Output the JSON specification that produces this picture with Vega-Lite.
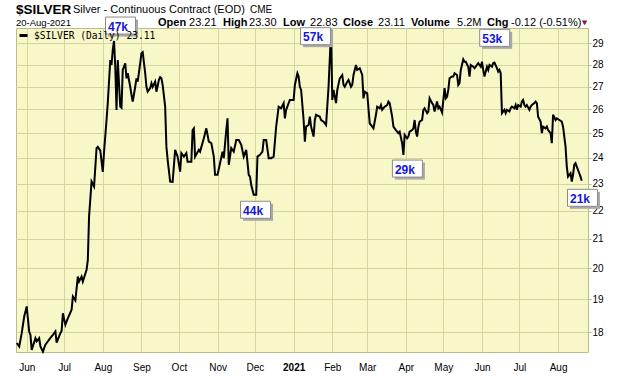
{
  "$schema": "https://vega.github.io/schema/vega-lite/v6.json",
  "width": 572,
  "height": 324,
  "autosize": {"type": "none"},
  "padding": {"left": 16, "top": 28, "right": 32, "bottom": 24},
  "background": "white",
  "config": {
    "view": {"fill": "#f7f7c7", "stroke": "#bcbc88", "strokeWidth": 1},
    "font": "Liberation Sans",
    "axis": {"labelFont": "Liberation Sans", "labelColor": "black"}
  },
  "datasets": {
    "silver": [
      {"date":"2020-05-24","price":17.68},{"date":"2020-05-26","price":17.58},{"date":"2020-05-28","price":17.97},{"date":"2020-05-30","price":18.47},{"date":"2020-06-01","price":18.78},{"date":"2020-06-03","price":18.02},{"date":"2020-06-04","price":17.92},{"date":"2020-06-05","price":17.48},{"date":"2020-06-08","price":17.82},{"date":"2020-06-09","price":17.73},{"date":"2020-06-11","price":17.82},{"date":"2020-06-12","price":17.58},{"date":"2020-06-14","price":17.43},{"date":"2020-06-16","price":17.63},{"date":"2020-06-17","price":17.68},{"date":"2020-06-20","price":17.83},{"date":"2020-06-22","price":17.92},{"date":"2020-06-24","price":18.02},{"date":"2020-06-25","price":17.69},{"date":"2020-06-28","price":17.97},{"date":"2020-06-29","price":18.04},{"date":"2020-06-30","price":18.57},{"date":"2020-07-02","price":18.22},{"date":"2020-07-04","price":18.42},{"date":"2020-07-07","price":18.68},{"date":"2020-07-08","price":19.09},{"date":"2020-07-10","price":18.97},{"date":"2020-07-12","price":19.73},{"date":"2020-07-13","price":19.57},{"date":"2020-07-15","price":19.73},{"date":"2020-07-16","price":19.57},{"date":"2020-07-19","price":19.95},{"date":"2020-07-20","price":20.28},{"date":"2020-07-21","price":21.79},{"date":"2020-07-23","price":23.08},{"date":"2020-07-25","price":22.89},{"date":"2020-07-27","price":24.39},{"date":"2020-07-28","price":24.44},{"date":"2020-07-30","price":24.29},{"date":"2020-08-01","price":23.45},{"date":"2020-08-02","price":24.24},{"date":"2020-08-04","price":25.55},{"date":"2020-08-05","price":26.28},{"date":"2020-08-07","price":28.21},{"date":"2020-08-08","price":27.98},{"date":"2020-08-09","price":28.68},{"date":"2020-08-10","price":29.11},{"date":"2020-08-11","price":27.90},{"date":"2020-08-12","price":25.98},{"date":"2020-08-13","price":28.21},{"date":"2020-08-15","price":26.12},{"date":"2020-08-16","price":26.07},{"date":"2020-08-17","price":27.75},{"date":"2020-08-19","price":28.06},{"date":"2020-08-20","price":27.37},{"date":"2020-08-21","price":27.60},{"date":"2020-08-23","price":26.99},{"date":"2020-08-24","price":26.63},{"date":"2020-08-25","price":26.34},{"date":"2020-08-27","price":26.99},{"date":"2020-08-28","price":27.37},{"date":"2020-08-29","price":27.22},{"date":"2020-08-31","price":28.06},{"date":"2020-09-01","price":28.53},{"date":"2020-09-02","price":28.58},{"date":"2020-09-04","price":27.60},{"date":"2020-09-05","price":26.99},{"date":"2020-09-06","price":26.77},{"date":"2020-09-08","price":26.93},{"date":"2020-09-09","price":27.15},{"date":"2020-09-10","price":26.99},{"date":"2020-09-12","price":27.22},{"date":"2020-09-13","price":26.77},{"date":"2020-09-15","price":27.30},{"date":"2020-09-16","price":27.42},{"date":"2020-09-17","price":27.37},{"date":"2020-09-18","price":27.07},{"date":"2020-09-20","price":26.12},{"date":"2020-09-21","price":24.45},{"date":"2020-09-22","price":23.92},{"date":"2020-09-24","price":23.08},{"date":"2020-09-26","price":23.07},{"date":"2020-09-28","price":24.32},{"date":"2020-09-30","price":24.05},{"date":"2020-10-02","price":23.46},{"date":"2020-10-03","price":24.19},{"date":"2020-10-05","price":24.05},{"date":"2020-10-07","price":24.19},{"date":"2020-10-08","price":23.85},{"date":"2020-10-11","price":23.85},{"date":"2020-10-12","price":25.13},{"date":"2020-10-13","price":25.20},{"date":"2020-10-14","price":24.05},{"date":"2020-10-17","price":24.32},{"date":"2020-10-18","price":24.25},{"date":"2020-10-21","price":24.79},{"date":"2020-10-23","price":25.20},{"date":"2020-10-25","price":24.65},{"date":"2020-10-27","price":24.59},{"date":"2020-10-29","price":24.05},{"date":"2020-10-30","price":23.34},{"date":"2020-11-01","price":23.34},{"date":"2020-11-03","price":23.79},{"date":"2020-11-05","price":24.25},{"date":"2020-11-06","price":23.99},{"date":"2020-11-08","price":25.13},{"date":"2020-11-09","price":25.62},{"date":"2020-11-10","price":23.73},{"date":"2020-11-12","price":24.39},{"date":"2020-11-14","price":24.25},{"date":"2020-11-16","price":24.72},{"date":"2020-11-18","price":24.72},{"date":"2020-11-20","price":24.52},{"date":"2020-11-22","price":24.05},{"date":"2020-11-24","price":24.32},{"date":"2020-11-26","price":23.34},{"date":"2020-11-27","price":23.27},{"date":"2020-11-28","price":22.95},{"date":"2020-11-30","price":22.58},{"date":"2020-12-02","price":22.58},{"date":"2020-12-03","price":24.05},{"date":"2020-12-05","price":24.12},{"date":"2020-12-07","price":24.25},{"date":"2020-12-08","price":24.72},{"date":"2020-12-10","price":24.72},{"date":"2020-12-12","price":23.99},{"date":"2020-12-14","price":23.99},{"date":"2020-12-16","price":24.05},{"date":"2020-12-18","price":25.27},{"date":"2020-12-20","price":26.12},{"date":"2020-12-22","price":26.05},{"date":"2020-12-24","price":26.27},{"date":"2020-12-25","price":25.62},{"date":"2020-12-26","price":25.98},{"date":"2020-12-28","price":26.27},{"date":"2020-12-29","price":26.41},{"date":"2021-01-01","price":26.41},{"date":"2021-01-02","price":27.07},{"date":"2021-01-04","price":27.60},{"date":"2021-01-05","price":27.45},{"date":"2021-01-06","price":26.99},{"date":"2021-01-07","price":26.85},{"date":"2021-01-09","price":25.55},{"date":"2021-01-10","price":24.65},{"date":"2021-01-11","price":25.27},{"date":"2021-01-13","price":25.34},{"date":"2021-01-14","price":25.69},{"date":"2021-01-15","price":25.27},{"date":"2021-01-17","price":24.86},{"date":"2021-01-18","price":25.55},{"date":"2021-01-19","price":25.77},{"date":"2021-01-22","price":25.69},{"date":"2021-01-23","price":25.55},{"date":"2021-01-25","price":25.48},{"date":"2021-01-27","price":25.34},{"date":"2021-01-29","price":26.99},{"date":"2021-01-31","price":29.65},{"date":"2021-02-01","price":26.41},{"date":"2021-02-02","price":26.85},{"date":"2021-02-04","price":26.27},{"date":"2021-02-05","price":26.85},{"date":"2021-02-07","price":27.37},{"date":"2021-02-09","price":27.52},{"date":"2021-02-10","price":27.07},{"date":"2021-02-11","price":26.99},{"date":"2021-02-13","price":27.22},{"date":"2021-02-14","price":27.30},{"date":"2021-02-16","price":26.99},{"date":"2021-02-17","price":27.07},{"date":"2021-02-18","price":27.52},{"date":"2021-02-20","price":27.98},{"date":"2021-02-21","price":27.75},{"date":"2021-02-23","price":27.83},{"date":"2021-02-25","price":27.52},{"date":"2021-02-26","price":26.48},{"date":"2021-02-27","price":26.77},{"date":"2021-03-01","price":26.70},{"date":"2021-03-02","price":26.05},{"date":"2021-03-03","price":25.41},{"date":"2021-03-05","price":25.27},{"date":"2021-03-06","price":25.20},{"date":"2021-03-08","price":25.77},{"date":"2021-03-09","price":26.12},{"date":"2021-03-11","price":26.05},{"date":"2021-03-12","price":26.19},{"date":"2021-03-13","price":25.98},{"date":"2021-03-15","price":26.12},{"date":"2021-03-17","price":26.19},{"date":"2021-03-18","price":26.34},{"date":"2021-03-19","price":26.27},{"date":"2021-03-21","price":25.69},{"date":"2021-03-22","price":25.27},{"date":"2021-03-24","price":25.13},{"date":"2021-03-26","price":25.00},{"date":"2021-03-27","price":25.06},{"date":"2021-03-29","price":24.59},{"date":"2021-03-30","price":24.12},{"date":"2021-03-31","price":24.93},{"date":"2021-04-02","price":24.79},{"date":"2021-04-03","price":24.86},{"date":"2021-04-04","price":25.06},{"date":"2021-04-06","price":25.13},{"date":"2021-04-07","price":25.20},{"date":"2021-04-08","price":25.55},{"date":"2021-04-09","price":25.06},{"date":"2021-04-10","price":24.86},{"date":"2021-04-11","price":25.27},{"date":"2021-04-12","price":25.48},{"date":"2021-04-14","price":25.55},{"date":"2021-04-15","price":25.98},{"date":"2021-04-16","price":26.05},{"date":"2021-04-18","price":25.84},{"date":"2021-04-19","price":25.91},{"date":"2021-04-20","price":26.48},{"date":"2021-04-22","price":26.27},{"date":"2021-04-23","price":26.19},{"date":"2021-04-24","price":25.91},{"date":"2021-04-26","price":26.34},{"date":"2021-04-27","price":26.05},{"date":"2021-04-28","price":26.12},{"date":"2021-04-30","price":25.87},{"date":"2021-05-02","price":26.93},{"date":"2021-05-03","price":26.48},{"date":"2021-05-04","price":26.55},{"date":"2021-05-05","price":26.85},{"date":"2021-05-06","price":27.37},{"date":"2021-05-08","price":27.45},{"date":"2021-05-09","price":27.45},{"date":"2021-05-10","price":27.60},{"date":"2021-05-12","price":27.52},{"date":"2021-05-13","price":27.07},{"date":"2021-05-14","price":27.15},{"date":"2021-05-15","price":27.75},{"date":"2021-05-17","price":28.24},{"date":"2021-05-18","price":28.13},{"date":"2021-05-19","price":28.13},{"date":"2021-05-21","price":27.90},{"date":"2021-05-22","price":27.45},{"date":"2021-05-23","price":27.98},{"date":"2021-05-25","price":27.90},{"date":"2021-05-26","price":27.83},{"date":"2021-05-27","price":27.90},{"date":"2021-05-29","price":28.06},{"date":"2021-05-31","price":27.90},{"date":"2021-06-01","price":28.13},{"date":"2021-06-02","price":27.75},{"date":"2021-06-03","price":27.45},{"date":"2021-06-05","price":27.90},{"date":"2021-06-06","price":27.75},{"date":"2021-06-07","price":27.98},{"date":"2021-06-09","price":27.90},{"date":"2021-06-10","price":28.06},{"date":"2021-06-11","price":28.09},{"date":"2021-06-13","price":27.83},{"date":"2021-06-14","price":27.67},{"date":"2021-06-15","price":27.75},{"date":"2021-06-16","price":27.60},{"date":"2021-06-17","price":25.84},{"date":"2021-06-19","price":25.98},{"date":"2021-06-20","price":25.84},{"date":"2021-06-21","price":25.98},{"date":"2021-06-23","price":25.91},{"date":"2021-06-24","price":26.05},{"date":"2021-06-25","price":26.12},{"date":"2021-06-27","price":26.05},{"date":"2021-06-28","price":26.19},{"date":"2021-06-29","price":25.98},{"date":"2021-06-30","price":26.19},{"date":"2021-07-02","price":26.12},{"date":"2021-07-03","price":26.34},{"date":"2021-07-04","price":26.41},{"date":"2021-07-05","price":26.19},{"date":"2021-07-06","price":26.12},{"date":"2021-07-07","price":26.19},{"date":"2021-07-09","price":25.98},{"date":"2021-07-10","price":26.12},{"date":"2021-07-11","price":26.19},{"date":"2021-07-13","price":26.27},{"date":"2021-07-14","price":26.34},{"date":"2021-07-15","price":26.27},{"date":"2021-07-16","price":25.69},{"date":"2021-07-18","price":25.48},{"date":"2021-07-19","price":25.00},{"date":"2021-07-20","price":25.27},{"date":"2021-07-22","price":25.20},{"date":"2021-07-23","price":25.27},{"date":"2021-07-24","price":25.13},{"date":"2021-07-26","price":25.00},{"date":"2021-07-27","price":24.59},{"date":"2021-07-28","price":25.77},{"date":"2021-07-30","price":25.55},{"date":"2021-07-31","price":25.62},{"date":"2021-08-02","price":25.55},{"date":"2021-08-04","price":25.48},{"date":"2021-08-05","price":25.27},{"date":"2021-08-07","price":24.45},{"date":"2021-08-08","price":23.66},{"date":"2021-08-09","price":23.27},{"date":"2021-08-11","price":23.40},{"date":"2021-08-12","price":23.08},{"date":"2021-08-13","price":23.34},{"date":"2021-08-14","price":23.73},{"date":"2021-08-15","price":23.79},{"date":"2021-08-16","price":23.66},{"date":"2021-08-18","price":23.40},{"date":"2021-08-19","price":23.27},{"date":"2021-08-20","price":23.11}
    ],
    "volume": [
      {"date":"2020-08-15T05:00:00Z","price":29.86,"volume":"47k"},
      {"date":"2021-01-18T14:00:00Z","price":29.34,"volume":"57k"},
      {"date":"2020-12-01T11:00:00Z","price":22.03,"volume":"44k"},
      {"date":"2021-04-02T05:00:00Z","price":23.58,"volume":"29k"},
      {"date":"2021-06-11T05:00:00Z","price":29.26,"volume":"53k"},
      {"date":"2021-08-20T14:00:00Z","price":22.47,"volume":"21k"}
    ]
  },
  "layer": [
    {
      "data": {"name": "silver"},
      "mark": {"type": "line", "strokeWidth": 2},
      "encoding": {
        "x": {
          "field": "date", "type": "temporal",
          "scale": {"type": "utc", "domain": [{"year":2020,"month":5,"date":23,"hours":10,"utc":true},{"year":2021,"month":8,"date":25,"utc":true}]},
          "axis": {
            "title": null, "grid": true, "gridColor": "#d4d4a0", "gridWidth": 1,
            "tickCount": {"interval": "month", "step": 1},
            "ticks": false, "domain": false,
            "labelPadding": 10, "labelFontSize": 10,
            "labelExpr": "utcFormat(datum.value, '%m') == '01' ? utcFormat(datum.value, '%Y') : utcFormat(datum.value, '%b')",
            "labelFontWeight": {"condition": {"test": "utcFormat(datum.value, '%m') == '01'", "value": "bold"}, "value": "normal"}
          }
        },
        "y": {
          "field": "price", "type": "quantitative",
          "scale": {"type": "log", "domain": [17.42, 29.74], "nice": false, "zero": false},
          "axis": {
            "title": null, "orient": "right", "grid": true, "gridColor": "#d4d4a0", "gridWidth": 1,
            "values": [18,19,20,21,22,23,24,25,26,27,28,29],
            "tickSize": 3, "tickColor": "#bcbc88", "labelPadding": 1, "labelFontSize": 10,
            "domain": false
          }
        },
        "color": {
          "datum": "$SILVER (Daily) 23.11", "type": "nominal",
          "scale": {"range": ["#000000"]},
          "legend": {
            "orient": "top-left", "offset": 2, "padding": 0, "title": null,
            "symbolType": "stroke", "symbolStrokeWidth": 3, "symbolSize": 64,
            "labelFont": "DejaVu Sans Mono", "labelFontSize": 9.6, "labelColor": "black", "labelOffset": 5
          }
        }
      }
    },
    {
      "data": {"name": "volume"},
      "mark": {"type": "point", "shape": "M-1.471,-0.706L2.059,-0.706L2.059,1.294L-1.471,1.294Z", "filled": true, "fill": "#a9a9a9", "opacity": 1, "strokeWidth": 0, "size": 289},
      "encoding": {"x": {"field": "date", "type": "temporal"}, "y": {"field": "price", "type": "quantitative"}}
    },
    {
      "data": {"name": "volume"},
      "mark": {"type": "point", "shape": "M-1.765,-1L1.765,-1L1.765,1L-1.765,1Z", "filled": true, "fill": "white", "stroke": "#8a8a8a", "strokeWidth": 1, "opacity": 1, "size": 289},
      "encoding": {"x": {"field": "date", "type": "temporal"}, "y": {"field": "price", "type": "quantitative"}}
    },
    {
      "data": {"name": "volume"},
      "mark": {"type": "text", "align": "left", "baseline": "middle", "dx": -12.5, "dy": 1, "font": "Liberation Sans", "fontWeight": "bold", "fontSize": 12, "color": "#1515e0"},
      "encoding": {"x": {"field": "date", "type": "temporal"}, "y": {"field": "price", "type": "quantitative"}, "text": {"field": "volume"}}
    },
    {
      "data": {"values": [{"t": "$SILVER"}]},
      "mark": {"type": "text", "align": "left", "baseline": "alphabetic", "font": "Liberation Sans", "fontWeight": "bold", "fontSize": 13.5, "color": "black"},
      "encoding": {"x": {"datum": {"year":2020,"month":5,"date":23,"hours":10,"utc":true}, "type": "temporal"}, "y": {"datum": 30.44, "type": "quantitative"}, "text": {"field": "t"}}
    },
    {
      "data": {"values": [{"t": "Silver - Continuous Contract (EOD)"}]},
      "mark": {"type": "text", "align": "left", "baseline": "alphabetic", "fontSize": 11, "color": "black"},
      "encoding": {"x": {"datum": {"year":2020,"month":7,"date":8,"hours":3,"utc":true}, "type": "temporal"}, "y": {"datum": 30.49, "type": "quantitative"}, "text": {"field": "t"}}
    },
    {
      "data": {"values": [{"t": "CME"}]},
      "mark": {"type": "text", "align": "left", "baseline": "alphabetic", "fontSize": 10, "color": "black"},
      "encoding": {"x": {"datum": {"year":2020,"month":11,"date":27,"hours":1,"utc":true}, "type": "temporal"}, "y": {"datum": 30.49, "type": "quantitative"}, "text": {"field": "t"}}
    },
    {
      "data": {"values": [{"t": "20-Aug-2021"}]},
      "mark": {"type": "text", "align": "left", "baseline": "alphabetic", "fontSize": 9.5, "color": "black"},
      "encoding": {"x": {"datum": {"year":2020,"month":5,"date":23,"hours":10,"utc":true}, "type": "temporal"}, "y": {"datum": 29.85, "type": "quantitative"}, "text": {"field": "t"}}
    },
    {
      "data": {"values": [{"t": "Open"}]},
      "mark": {"type": "text", "align": "left", "baseline": "alphabetic", "fontSize": 11, "fontWeight": "bold", "color": "black"},
      "encoding": {"x": {"datum": {"year":2020,"month":9,"date":14,"hours":7,"utc":true}, "type": "temporal"}, "y": {"datum": 29.85, "type": "quantitative"}, "text": {"field": "t"}}
    },
    {
      "data": {"values": [{"t": "23.21"}]},
      "mark": {"type": "text", "align": "left", "baseline": "alphabetic", "fontSize": 11, "color": "black"},
      "encoding": {"x": {"datum": {"year":2020,"month":10,"date":9,"hours":3,"utc":true}, "type": "temporal"}, "y": {"datum": 29.85, "type": "quantitative"}, "text": {"field": "t"}}
    },
    {
      "data": {"values": [{"t": "High"}]},
      "mark": {"type": "text", "align": "left", "baseline": "alphabetic", "fontSize": 11, "fontWeight": "bold", "color": "black"},
      "encoding": {"x": {"datum": {"year":2020,"month":11,"date":5,"hours":9,"utc":true}, "type": "temporal"}, "y": {"datum": 29.85, "type": "quantitative"}, "text": {"field": "t"}}
    },
    {
      "data": {"values": [{"t": "23.30"}]},
      "mark": {"type": "text", "align": "left", "baseline": "alphabetic", "fontSize": 11, "color": "black"},
      "encoding": {"x": {"datum": {"year":2020,"month":11,"date":26,"hours":6,"utc":true}, "type": "temporal"}, "y": {"datum": 29.85, "type": "quantitative"}, "text": {"field": "t"}}
    },
    {
      "data": {"values": [{"t": "Low"}]},
      "mark": {"type": "text", "align": "left", "baseline": "alphabetic", "fontSize": 11, "fontWeight": "bold", "color": "black"},
      "encoding": {"x": {"datum": {"year":2020,"month":12,"date":23,"hours":12,"utc":true}, "type": "temporal"}, "y": {"datum": 29.85, "type": "quantitative"}, "text": {"field": "t"}}
    },
    {
      "data": {"values": [{"t": "22.83"}]},
      "mark": {"type": "text", "align": "left", "baseline": "alphabetic", "fontSize": 11, "color": "black"},
      "encoding": {"x": {"datum": {"year":2021,"month":1,"date":14,"hours":4,"utc":true}, "type": "temporal"}, "y": {"datum": 29.85, "type": "quantitative"}, "text": {"field": "t"}}
    },
    {
      "data": {"values": [{"t": "Close"}]},
      "mark": {"type": "text", "align": "left", "baseline": "alphabetic", "fontSize": 11, "fontWeight": "bold", "color": "black"},
      "encoding": {"x": {"datum": {"year":2021,"month":2,"date":9,"hours":15,"utc":true}, "type": "temporal"}, "y": {"datum": 29.85, "type": "quantitative"}, "text": {"field": "t"}}
    },
    {
      "data": {"values": [{"t": "23.11"}]},
      "mark": {"type": "text", "align": "left", "baseline": "alphabetic", "fontSize": 11, "color": "black"},
      "encoding": {"x": {"datum": {"year":2021,"month":3,"date":9,"hours":16,"utc":true}, "type": "temporal"}, "y": {"datum": 29.85, "type": "quantitative"}, "text": {"field": "t"}}
    },
    {
      "data": {"values": [{"t": "Volume"}]},
      "mark": {"type": "text", "align": "left", "baseline": "alphabetic", "fontSize": 11, "fontWeight": "bold", "color": "black"},
      "encoding": {"x": {"datum": {"year":2021,"month":4,"date":5,"hours":3,"utc":true}, "type": "temporal"}, "y": {"datum": 29.85, "type": "quantitative"}, "text": {"field": "t"}}
    },
    {
      "data": {"values": [{"t": "5.2M"}]},
      "mark": {"type": "text", "align": "left", "baseline": "alphabetic", "fontSize": 11, "color": "black"},
      "encoding": {"x": {"datum": {"year":2021,"month":5,"date":12,"hours":0,"utc":true}, "type": "temporal"}, "y": {"datum": 29.85, "type": "quantitative"}, "text": {"field": "t"}}
    },
    {
      "data": {"values": [{"t": "Chg"}]},
      "mark": {"type": "text", "align": "left", "baseline": "alphabetic", "fontSize": 11, "fontWeight": "bold", "color": "black"},
      "encoding": {"x": {"datum": {"year":2021,"month":6,"date":5,"hours":2,"utc":true}, "type": "temporal"}, "y": {"datum": 29.85, "type": "quantitative"}, "text": {"field": "t"}}
    },
    {
      "data": {"values": [{"t": "-0.12 (-0.51%)"}]},
      "mark": {"type": "text", "align": "left", "baseline": "alphabetic", "fontSize": 11, "color": "black"},
      "encoding": {"x": {"datum": {"year":2021,"month":6,"date":24,"hours":7,"utc":true}, "type": "temporal"}, "y": {"datum": 29.85, "type": "quantitative"}, "text": {"field": "t"}}
    },
    {
      "data": {"values": [{"t": "down"}]},
      "mark": {"type": "point", "shape": "triangle-down", "filled": true, "fill": "#8b1538", "strokeWidth": 0, "opacity": 1, "size": 30},
      "encoding": {"x": {"datum": {"year":2021,"month":8,"date":22,"hours":6,"utc":true}, "type": "temporal"}, "y": {"datum": 29.99, "type": "quantitative"}}
    }
  ]
}
